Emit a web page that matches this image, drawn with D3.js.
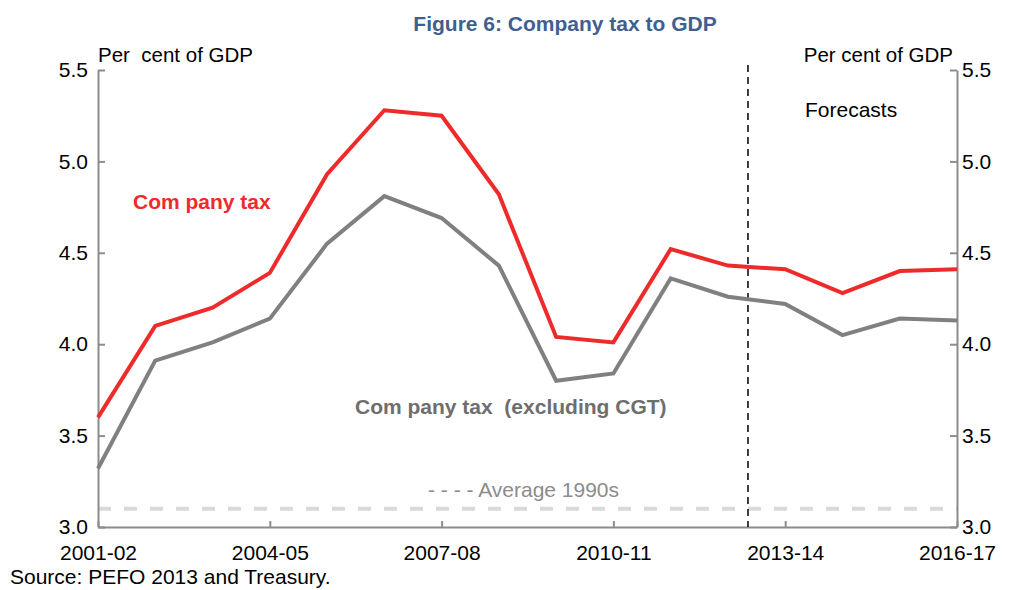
<!DOCTYPE html>
<html><head><meta charset="utf-8">
<script src="https://cdn.jsdelivr.net/npm/d3@7"></script>
<style>
body{margin:0;background:#fff;}
svg{font-family:"Liberation Sans",Arial,sans-serif;}
text{white-space:pre;}
</style></head>
<body><svg id="c" width="1012" height="590"></svg>
<script>
const years = ["2001-02","2002-03","2003-04","2004-05","2005-06","2006-07","2007-08","2008-09","2009-10","2010-11","2011-12","2012-13","2013-14","2014-15","2015-16","2016-17"];
const companyTax = [3.60,4.10,4.20,4.39,4.93,5.28,5.25,4.82,4.04,4.01,4.52,4.43,4.41,4.28,4.40,4.41];
const companyTaxExCGT = [3.32,3.91,4.01,4.14,4.55,4.81,4.69,4.43,3.80,3.84,4.36,4.26,4.22,4.05,4.14,4.13];
const average1990s = 3.10;
const forecastStart = 11.35; // position between 2012-13 and 2013-14
const yTicks = [3.0,3.5,4.0,4.5,5.0,5.5];
const xTickLabels = ["2001-02","2004-05","2007-08","2010-11","2013-14","2016-17"];

const svg = d3.select("#c");
const L=98,R=957,T=70,B=527;
const x = d3.scaleLinear().domain([0,years.length-1]).range([L,R]);
const y = d3.scaleLinear().domain([3,5.5]).range([B,T]);
const axisCol="#8c8c8c";
const FS=21;

svg.append("text").attr("x",565).attr("y",31).attr("text-anchor","middle")
  .attr("font-size",21).attr("font-weight","bold").attr("fill","#3f5f8f").text("Figure 6: Company tax to GDP");

// average line
svg.append("line").attr("x1",L).attr("x2",R).attr("y1",y(average1990s)).attr("y2",y(average1990s))
  .attr("stroke","#d9d9d9").attr("stroke-width",4).attr("stroke-dasharray","13,13");

// axes
const yl = d3.axisLeft(y).tickValues(yTicks).tickFormat(d3.format(".1f")).tickSizeInner(-7).tickSizeOuter(0).tickPadding(10);
const yr = d3.axisRight(y).tickValues(yTicks).tickFormat(d3.format(".1f")).tickSizeInner(-7).tickSizeOuter(0).tickPadding(5);
const xa = d3.axisBottom(x).tickValues(xTickLabels.map(t=>years.indexOf(t))).tickFormat(i=>years[i]).tickSizeInner(-6).tickSizeOuter(0).tickPadding(18);
function style(g){g.selectAll("path,line").attr("stroke",axisCol).attr("stroke-width",2);
  g.selectAll("text").attr("fill","#000").attr("font-size",FS).attr("font-family","Liberation Sans, Arial, sans-serif");}
svg.append("g").attr("transform",`translate(${L},0)`).call(yl).call(style);
svg.append("g").attr("transform",`translate(${R},0)`).call(yr).call(style);
svg.append("g").attr("transform",`translate(0,${B})`).call(xa).call(style);

// forecast line
svg.append("line").attr("x1",x(forecastStart)).attr("x2",x(forecastStart)).attr("y1",65).attr("y2",B)
  .attr("stroke","#000").attr("stroke-width",1.5).attr("stroke-dasharray","7,5");

const line = d3.line().x((d,i)=>x(i)).y(d=>y(d));
svg.append("path").datum(companyTaxExCGT).attr("d",line).attr("fill","none").attr("stroke","#808080").attr("stroke-width",4);
svg.append("path").datum(companyTax).attr("d",line).attr("fill","none").attr("stroke","#ee2b2b").attr("stroke-width",4);

// labels
svg.append("text").attr("x",98).attr("y",62).attr("font-size",20.5).text("Per  cent of GDP");
svg.append("text").attr("x",953).attr("y",62).attr("text-anchor","end").attr("font-size",20.5).text("Per cent of GDP");
svg.append("text").attr("x",805).attr("y",117).attr("font-size",FS).text("Forecasts");
svg.append("text").attr("x",133).attr("y",209).attr("font-size",21).attr("font-weight","bold").attr("fill","#ee2b2b").text("Com pany tax");
svg.append("text").attr("x",355).attr("y",414).attr("font-size",21).attr("font-weight","bold").attr("fill","#6e6e6e").text("Com pany tax  (excluding CGT)");
svg.append("text").attr("x",428).attr("y",497).attr("font-size",FS).attr("fill","#8c8c8c").text("- - - - Average 1990s");
svg.append("text").attr("x",10).attr("y",584).attr("font-size",FS).text("Source: PEFO 2013 and Treasury.");
</script></body></html>
